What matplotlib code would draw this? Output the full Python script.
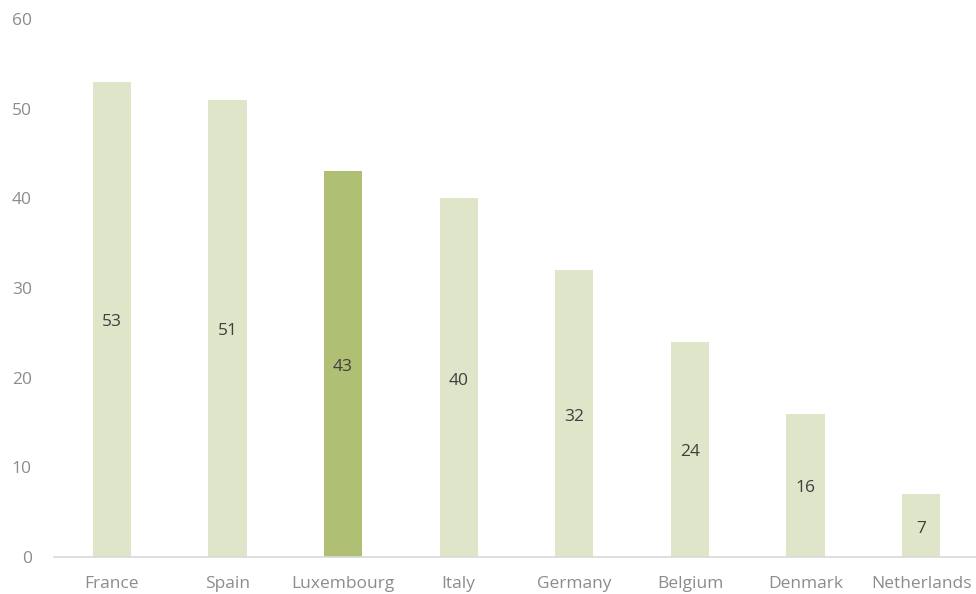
import matplotlib

matplotlib.use("Agg")

import matplotlib.pyplot as plt
from matplotlib.transforms import offset_copy

countries = ["France", "Spain", "Luxembourg", "Italy", "Germany", "Belgium", "Denmark", "Netherlands"]
values = [53, 51, 43, 40, 32, 24, 16, 7]
highlight = "Luxembourg"

light = "#DFE5C8"
dark = "#AFBF74"

plt.rcParams["font.family"] = ["Open Sans", "DejaVu Sans"]

fig = plt.figure(figsize=(9.76, 5.94), dpi=100)
ax = fig.add_axes([54 / 976, 37 / 594, 925 / 976, 538 / 594])

colors = [dark if c == highlight else light for c in countries]
x = range(len(countries))
bars = ax.bar(x, values, width=0.33, color=colors, zorder=2)

# labels sit a touch below the bar middle, like the original
lab_tr = offset_copy(ax.transData, fig=fig, x=0, y=-3, units="dots")
for b, v in zip(bars, values):
    ax.text(b.get_x() + b.get_width() / 2, v / 2, str(v), ha="center", va="center",
            fontsize=12.5, color="#3F3F3F", transform=lab_tr)

ax.set_xlim(-0.5, len(countries) - 0.5)
ax.set_ylim(0, 60)
ax.set_yticks(range(0, 61, 10))
ax.set_xticks(list(x))
ax.set_xticklabels(countries)

for s in ["top", "right", "left"]:
    ax.spines[s].set_visible(False)
ax.spines["bottom"].set_color("#D9D9D9")
ax.spines["bottom"].set_linewidth(1.2)
ax.tick_params(axis="both", length=0, labelsize=12.5, colors="#8C8C8C")
ax.tick_params(axis="x", pad=14)
ax.tick_params(axis="y", pad=16)

fig.savefig("out.png", dpi=100)
